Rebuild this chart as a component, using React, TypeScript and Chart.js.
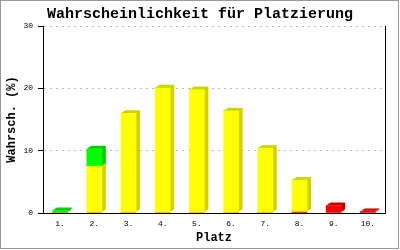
import React, { useEffect, useRef } from 'react';
import { Chart, registerables } from 'chart.js';

Chart.register(...registerables);

const chartTitle = 'Wahrscheinlichkeit für Platzierung';
const xTitle = 'Platz';
const yTitle = 'Wahrsch. (%)';
const places = ['1.', '2.', '3.', '4.', '5.', '6.', '7.', '8.', '9.', '10.'];
// stacked bottom to top: red, yellow, green
const redValues = [0, 0, 0, 0, 0, 0, 0, 0.15, 1.2, 0.25];
const yellowValues = [0, 7.5, 16.0, 20.1, 19.8, 16.4, 10.4, 5.15, 0, 0];
const greenValues = [0.4, 2.8, 0, 0, 0, 0, 0, 0, 0, 0];
const yTicks = [0, 10, 20, 30];

const frontColors = ['#ff0000', '#ffff00', '#00ff00'];
const sideColors = ['#cc0000', '#d4d000', '#00cc00'];

const MONO = '"Liberation Mono", "DejaVu Sans Mono", monospace';

const depthPlugin = {
  id: 'depth3d',
  beforeDatasetsDraw(chart: any) {
    const ctx = chart.ctx;
    chart.data.datasets.forEach((_ds: any, di: number) => {
      const meta = chart.getDatasetMeta(di);
      ctx.save();
      ctx.fillStyle = sideColors[di];
      meta.data.forEach((el: any) => {
        const { x, y, base, width } = el.getProps(['x', 'y', 'base', 'width'], true);
        const h = base - y;
        if (h < 0.5) return;
        for (let k = 1; k <= 4; k++) {
          ctx.fillRect(x - width / 2 + k, y - Math.round(k * 0.75), width, h);
        }
      });
      ctx.restore();
    });
  },
  afterDraw(chart: any) {
    const ctx = chart.ctx;
    ctx.save();
    ctx.strokeStyle = '#999999';
    ctx.lineWidth = 1;
    ctx.strokeRect(0.5, 0.5, 398, 248);
    ctx.restore();
  },
};

export default function App() {
  const ref = useRef<HTMLCanvasElement | null>(null);

  useEffect(() => {
    if (!ref.current) return;
    const chart = new Chart(ref.current, {
      type: 'bar',
      data: {
        labels: places,
        datasets: [
          { data: redValues, backgroundColor: frontColors[0], borderWidth: 0, barThickness: 15, yAxisID: 'y' },
          { data: yellowValues, backgroundColor: frontColors[1], borderWidth: 0, barThickness: 15, yAxisID: 'y' },
          { data: greenValues, backgroundColor: frontColors[2], borderWidth: 0, barThickness: 15, yAxisID: 'y' },
        ],
      },
      options: {
        responsive: false,
        animation: false,
        events: [],
        layout: { padding: 0 },
        plugins: {
          legend: { display: false },
          tooltip: { enabled: false },
          title: {
            display: true,
            text: chartTitle,
            color: '#000',
            font: { family: MONO, size: 15, weight: 'bold', lineHeight: 1.2 },
            padding: { top: 5, bottom: 3 },
          },
        },
        scales: {
          x: {
            stacked: true,
            grid: { display: false, drawTicks: false },
            border: { display: true, color: '#000', width: 1 },
            ticks: { color: '#000', font: { family: MONO, size: 8 }, padding: 6 },
            title: {
              display: true,
              text: xTitle,
              color: '#000',
              font: { family: MONO, size: 12, weight: 'bold', lineHeight: 1.2 },
              padding: { top: 0, bottom: 5 },
            },
            afterFit: (s: any) => { s.height = 37; },
          },
          y: {
            stacked: true,
            position: 'left',
            min: 0,
            max: 30,
            afterBuildTicks: (s: any) => { s.ticks = yTicks.map((v) => ({ value: v })); },
            grid: { color: '#bbbbbb', lineWidth: 1, drawTicks: true, tickLength: 5, tickColor: '#000' },
            border: { display: true, color: '#000', width: 1, dash: [2, 4] },
            ticks: { color: '#000', font: { family: MONO, size: 8 }, padding: 5 },
            title: {
              display: true,
              text: yTitle,
              color: '#000',
              font: { family: MONO, size: 12, weight: 'bold', lineHeight: 1.2 },
              padding: { top: 5, bottom: 0 },
            },
            afterFit: (s: any) => { s.width = 43; },
          },
          y2: {
            position: 'right',
            min: 0,
            max: 30,
            grid: { display: false, drawTicks: false },
            border: { display: true, color: '#000', width: 1 },
            ticks: { display: false },
            afterFit: (s: any) => { s.width = 15; },
          },
        },
      },
      plugins: [depthPlugin],
    } as any);
    return () => chart.destroy();
  }, []);

  return (
    <div style={{ position: 'absolute', left: 0, top: 0, width: 400, height: 250, background: '#fff' }}>
      <canvas ref={ref} width={400} height={250} style={{ display: 'block' }} />
    </div>
  );
}
